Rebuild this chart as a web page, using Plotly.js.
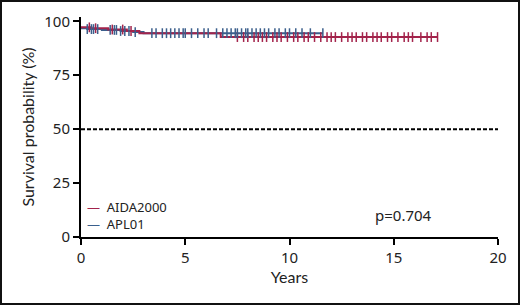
<!DOCTYPE html>
<html><head><meta charset="utf-8">
<script src="https://cdn.plot.ly/plotly-3.0.1.min.js"></script>
<style>
html,body{margin:0;padding:0;background:#fff;}
#wrap{position:relative;width:520px;height:305px;}
#chart{width:520px;height:305px;}
#frame{position:absolute;left:0;top:0;width:520px;height:305px;box-sizing:border-box;border:2px solid #111;pointer-events:none;}
</style></head>
<body>
<div id="wrap"><div id="chart"></div><div id="frame"></div></div>
<script>
// Kaplan-Meier step data (years, survival %)
const aidaTimes = [0, 0.5, 1.3, 2.2, 2.8, 6.7, 17.1];
const aidaSurv  = [97.2, 96.8, 96.2, 95.5, 94.5, 92.7, 92.7];
const aplTimes  = [0, 0.3, 1.0, 1.9, 2.5, 3.0, 11.6];
const aplSurv   = [96.8, 96.4, 96.0, 95.5, 95.0, 94.5, 94.5];
// censoring times
const aidaCens = [0.4,0.7,1.5,2.0,2.4,7.5,7.8,8.0,8.3,8.5,8.7,8.9,9.2,9.4,9.6,9.9,10.2,10.4,10.7,10.9,11.2,11.5,11.8,12.0,12.2,12.5,12.8,13.0,13.2,13.5,13.7,14.0,14.2,14.4,14.7,14.9,15.2,15.5,15.7,15.9,16.3,16.6,16.8,17.1];
const aplCens = [0.3,0.5,0.6,0.8,1.4,1.6,1.7,1.9,2.1,2.3,2.6,3.4,3.6,3.9,4.1,4.3,4.5,4.7,4.9,5.0,5.3,5.6,5.9,6.1,6.5,6.8,7.0,7.2,7.4,7.5,7.7,7.9,8.0,8.2,8.4,8.6,8.8,9.0,9.3,9.5,9.8,10.0,10.3,10.6,11.0,11.6];
const seriesNames = ["AIDA2000", "APL01"];
const xTicks = [0, 5, 10, 15, 20];
const yTicks = [0, 25, 50, 75, 100];
const pText = "p=0.704";

const red = "#a3234b", blue = "#3b5f8c";
function survAt(T, S, t){ let v = S[0]; for(let i=0;i<T.length;i++){ if(T[i] <= t) v = S[i]; } return v; }

const numFont = "'Noto Sans', sans-serif";
const titleFont = "Lato, sans-serif";
const traces = [
  {x: aplTimes, y: aplSurv, mode:'lines', line:{shape:'hv', color:blue, width:2}, showlegend:false},
  {x: aidaTimes, y: aidaSurv, mode:'lines', line:{shape:'hv', color:red, width:2}, showlegend:false},
  {x: aidaCens, y: aidaCens.map(t=>survAt(aidaTimes, aidaSurv, t)), mode:'markers', marker:{symbol:'line-ns-open', size:7, color:red, line:{color:red, width:1.5}}, showlegend:false},
  {x: aplCens, y: aplCens.map(t=>survAt(aplTimes, aplSurv, t)), mode:'markers', marker:{symbol:'line-ns-open', size:7, color:blue, line:{color:blue, width:1.5}}, showlegend:false},
  {x: [0, 20], y: [50, 50], mode:'lines', line:{color:'#000', width:2, dash:'4px,2px'}, showlegend:false}
];
const axisCommon = {showgrid:false, zeroline:false, showline:true, linecolor:'#000', linewidth:2,
  ticks:'outside', ticklen:6, tickwidth:2, tickcolor:'#000', tickfont:{family:numFont, size:15, color:'#222'}};
const legendText = '<span style="color:'+red+'">—</span>  '+seriesNames[0]+'<br>'+
                   '<span style="color:'+blue+'">—</span>  '+seriesNames[1];
const layout = {
  width:520, height:305, margin:{l:81, r:22, t:17, b:68},
  paper_bgcolor:'#fff', plot_bgcolor:'#fff', showlegend:false,
  xaxis: Object.assign({}, axisCommon, {range:[0,20], tickvals:xTicks, ticktext:xTicks.map(String),
    title:{text:'Years', font:{family:titleFont, size:16, color:'#222'}, standoff:6}}),
  yaxis: Object.assign({}, axisCommon, {range:[0,102], tickvals:yTicks, ticktext:yTicks.map(String),
    title:{text:'Survival probability (%)', font:{family:titleFont, size:16, color:'#222'}, standoff:6}}),
  annotations: [
    {x:0.2, y:10.2, xref:'x', yref:'y', xanchor:'left', align:'left', showarrow:false,
     text:legendText, font:{family:numFont, size:13, color:'#222'}},
    {x:15.45, y:10, xref:'x', yref:'y', showarrow:false, text:pText, font:{family:numFont, size:15, color:'#222'}}
  ]
};
Plotly.newPlot('chart', traces, layout, {staticPlot:true, displayModeBar:false});
</script>
</body></html>
